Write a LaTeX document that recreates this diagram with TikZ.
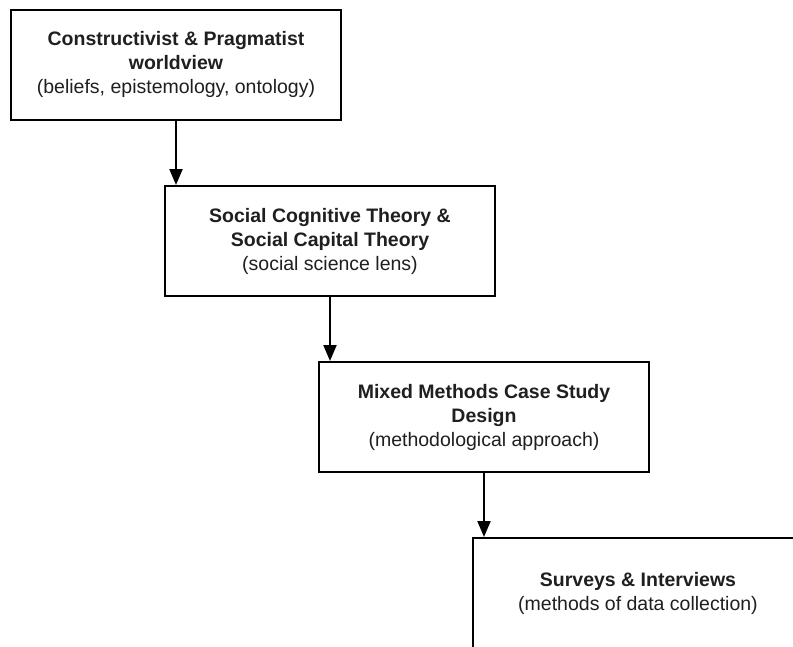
\documentclass[tikz,border=0pt]{standalone}
\usepackage{fontspec}
\setmainfont{Liberation Sans}
\usetikzlibrary{arrows.meta}
\begin{document}
\begin{tikzpicture}[x=1pt,y=-1pt,
  box/.style={draw=black,line width=2pt,fill=white,minimum width=330pt,minimum height=110pt,
    align=center,text=black!88,font=\fontsize{19.5}{24}\selectfont,inner sep=0pt},
  conn/.style={line width=2pt,-{Triangle[length=16pt,width=13pt]}}]
\useasboundingbox (0,0) rectangle (793,646);
\clip (0,0) rectangle (793,646);
\node[box] (b1) at (176,64.5) {\textbf{Constructivist \& Pragmatist}\\\textbf{worldview}\\(beliefs, epistemology, ontology)};
\node[box] (b2) at (330,241) {\textbf{Social Cognitive Theory \&}\\\textbf{Social Capital Theory}\\(social science lens)};
\node[box] (b3) at (484,417) {\textbf{Mixed Methods Case Study}\\\textbf{Design}\\(methodological approach)};
\node[box] (b4) at (638,593) {\textbf{Surveys \& Interviews}\\(methods of data collection)};
\draw[conn] (b1.south) -- (b1.south |- b2.north);
\draw[conn] (b2.south) -- (b2.south |- b3.north);
\draw[conn] (b3.south) -- (b3.south |- b4.north);
\end{tikzpicture}
\end{document}
